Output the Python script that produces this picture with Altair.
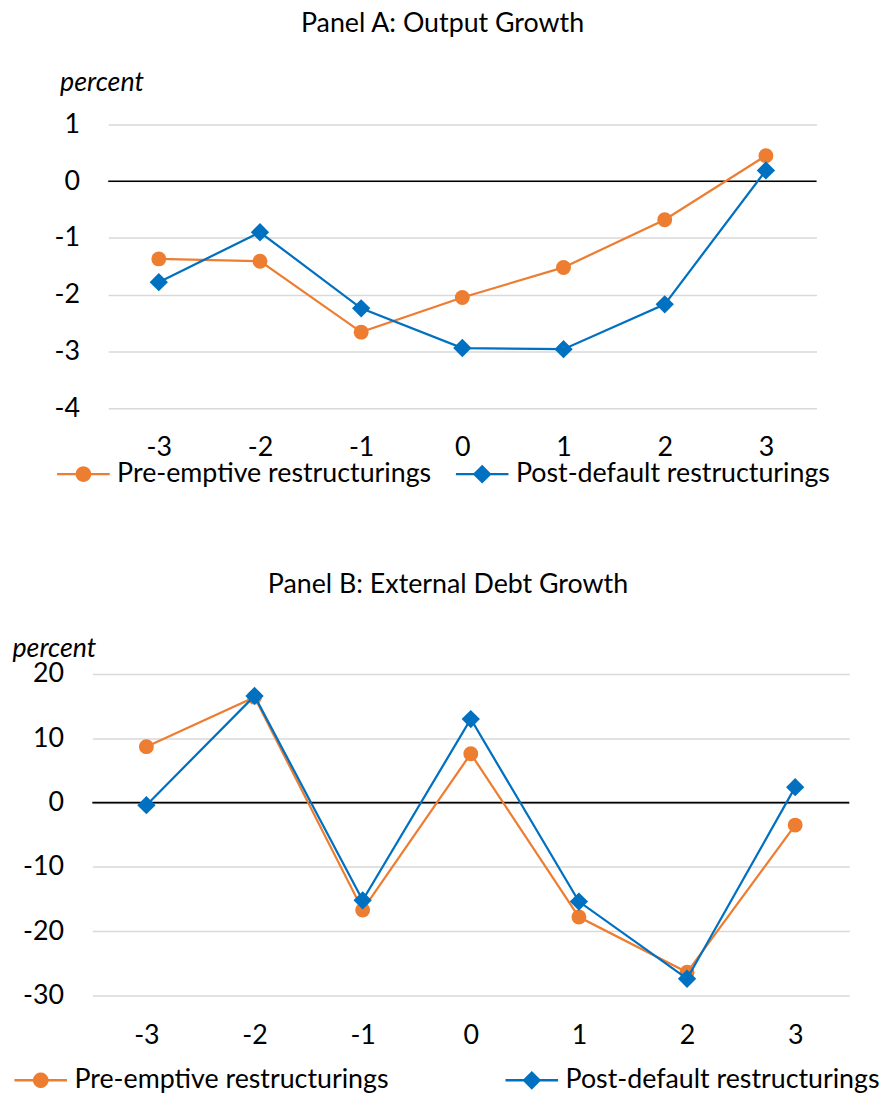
import math
import altair as alt
import pandas as pd

# ---- data ----
years = ["-3", "-2", "-1", "0", "1", "2", "3"]
series_names = ["Pre-emptive restructurings", "Post-default restructurings"]
series_colors = ["#ED7D31", "#0070C0"]

output_pre = [-1.37, -1.41, -2.66, -2.05, -1.52, -0.68, 0.45]
output_post = [-1.78, -0.90, -2.24, -2.94, -2.96, -2.17, 0.19]

debt_pre = [8.7, 16.4, -16.7, 7.6, -17.8, -26.4, -3.5]
debt_post = [-0.4, 16.6, -15.2, 13.0, -15.4, -27.4, 2.4]

output_ticks = [-4, -3, -2, -1, 0, 1]
debt_ticks = [-30, -20, -10, 0, 10, 20]

FONT = "Lato"
FS = 27


def make_df(pre, post):
    rows = []
    for s, vals in zip(series_names, [pre, post]):
        for i, (y, v) in enumerate(zip(years, vals)):
            rows.append({"year": y, "idx": i, "series": s, "value": v})
    return pd.DataFrame(rows)


# legend symbols: a line with a circle / a diamond in the middle (unit symbol paths)
_r = 0.25
_circle = "L".join(f"{_r * math.cos(2 * math.pi * k / 20):.4f},{_r * math.sin(2 * math.pi * k / 20):.4f}"
                   for k in range(20))
PATH_C = "M-1,0H1M" + _circle + "Z"
PATH_D = "M-1,0H1M-0.29,0L0,-0.29L0.29,0L0,0.29Z"

INDEP = dict(fill="independent", stroke="independent", shape="independent")


def panel(df, title, ticks, width, height, title_dx, title_offset,
          ptitle_x, ptitle_y, leg_x, leg_y, col_pad):
    x = alt.X("year:O", sort=years, scale=alt.Scale(paddingInner=1, paddingOuter=0.5),
              axis=alt.Axis(title=None, labelAngle=0, domain=False, ticks=False,
                            grid=False, labelPadding=27, labelFontSize=FS,
                            labelFont=FONT, labelColor="#000000"))
    y_scale = alt.Scale(domain=[ticks[0], ticks[-1]], nice=False, zero=False)
    y_axis = alt.Axis(values=ticks, title="percent", titleAngle=0, titleX=ptitle_x,
                      titleY=ptitle_y, titleAlign="left", titleBaseline="alphabetic",
                      titleFontStyle="italic", titleFontWeight="normal",
                      titleFontSize=FS, titleFont=FONT, titleColor="#000000",
                      domain=False, ticks=False, labelPadding=29, labelFontSize=FS,
                      labelFont=FONT, labelColor="#000000", grid=True,
                      labelExpr="toString(datum.value)",
                      gridColor="#D9D9D9", gridWidth=1.5)
    y = alt.Y("value:Q", scale=y_scale, axis=y_axis)
    base = alt.Chart(df)
    legend = alt.Legend(
        orient="none", legendX=leg_x, legendY=leg_y, direction="horizontal",
        title=None, symbolSize=2809, columnPadding=col_pad, labelOffset=6,
        labelFontSize=FS, labelFont=FONT, labelColor="#000000", labelLimit=1000,
        padding=0, symbolStrokeWidth=2.5, symbolOpacity=1,
    )
    zero = alt.Chart(pd.DataFrame({"value": [0]})).mark_rule(
        color="#000000", strokeWidth=1.6).encode(y=y)
    layers = [zero]
    for s, c, shp, sz in zip(series_names, series_colors, ["circle", "diamond"], [225, 340]):
        sub = base.transform_filter(alt.datum.series == s)
        layers.append(sub.mark_line(strokeWidth=2.25, color=c).encode(
            x=x, y=y, order=alt.Order("idx:Q")))
        layers.append(sub.mark_point(shape=shp, size=sz, filled=True, opacity=1, color=c)
                      .encode(x=x, y=y))
    legend_layer = base.mark_point(filled=True, size=0, opacity=1).encode(
        x=x, y=y,
        fill=alt.Fill("series:N", scale=alt.Scale(domain=series_names, range=series_colors),
                      legend=legend),
        stroke=alt.Stroke("series:N", scale=alt.Scale(domain=series_names, range=series_colors),
                          legend=legend),
        shape=alt.Shape("series:N", scale=alt.Scale(domain=series_names, range=[PATH_C, PATH_D]),
                        legend=legend),
    )
    layers.append(legend_layer)
    return alt.layer(*layers).properties(
        width=width, height=height,
        title=alt.TitleParams(title, anchor="middle", frame="group", dx=title_dx,
                              offset=title_offset, fontSize=FS, font=FONT,
                              fontWeight="normal", color="#000000"),
    )


panel_a = panel(make_df(output_pre, output_post), "Panel A: Output Growth", output_ticks,
                714, 286, -20, 31, -49, -34, -53, 324.5, 19)
panel_b = panel(make_df(debt_pre, debt_post), "Panel B: External Debt Growth", debt_ticks,
                763, 324, -23, 36, -81, -18, -80, 381.5, 112)

spacer = alt.Chart(pd.DataFrame({"a": [0]})).mark_text(text="").encode(
    x=alt.value(0), y=alt.value(0)).properties(width=1, height=10)

row_a = alt.hconcat(spacer, panel_a, spacing=-40).resolve_scale(**INDEP).resolve_legend(**INDEP)

chart = alt.vconcat(row_a, panel_b, spacing=84).resolve_scale(**INDEP).resolve_legend(
    **INDEP
).properties(
    padding={"left": 4, "top": -2, "right": 0, "bottom": 0}
).configure(font=FONT, view=alt.ViewConfig(stroke=None))

chart.save("out.html", embed_options={"renderer": "svg", "actions": False})
